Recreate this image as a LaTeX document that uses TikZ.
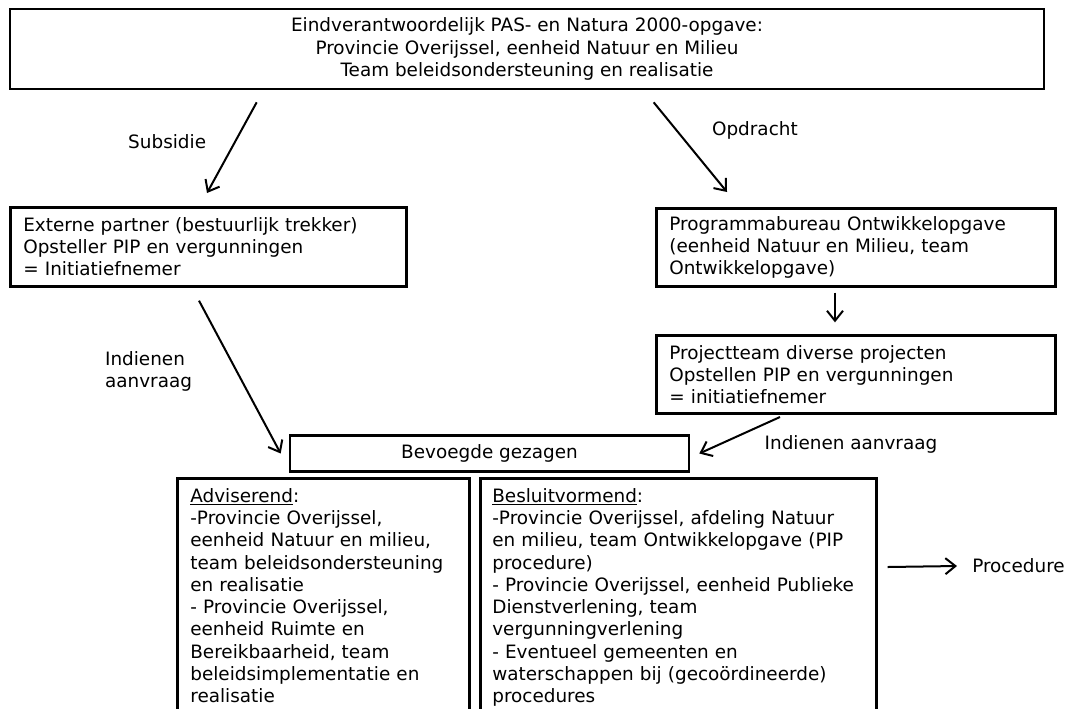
\documentclass[tikz,border=0pt]{standalone}
\usepackage{fontspec}
\setmainfont{DejaVu Sans}
\usepackage{tikz}
\usetikzlibrary{arrows.meta,positioning,calc}

\newcommand{\pxu}{0.75pt}

\begin{document}
\begin{tikzpicture}[
  x=0.75pt, y=-0.75pt,
  font=\fontsize{13.8pt}{16.7pt}\selectfont,
  box/.style={rectangle, draw, line width=2pt, align=left, inner xsep=13*\pxu, inner ysep=3pt},
  arrow/.style={-{Straight Barb[length=7.5pt, width=12pt]}, line width=1.5pt},
  lbl/.style={inner sep=0pt, align=left},
  longbox/.style={box, anchor=north west, text height=15pt, text depth=220pt}
]
  \useasboundingbox (0,0) rectangle (1074,708);
  \clip (0,0) rectangle (1074,708);

  \node[box, align=center, minimum width=1034*\pxu, minimum height=80*\pxu] (opgave) at (527,49)
    {Eindverantwoordelijk PAS- en Natura 2000-opgave:\\Provincie Overijssel, eenheid Natuur en Milieu\\Team beleidsondersteuning en realisatie};
  \node[box, anchor=north west, text width=370*\pxu, minimum height=79*\pxu] (partner) at (9,206)
    {Externe partner (bestuurlijk trekker)\\Opsteller PIP en vergunningen\\= Initiatiefnemer};
  \node[box, anchor=north west, text width=373*\pxu, minimum height=78*\pxu] (bureau) at (655,207)
    {Programmabureau Ontwikkelopgave\\(eenheid Natuur en Milieu, team\\Ontwikkelopgave)};
  \node[box, below=35pt of bureau, text width=373*\pxu, minimum height=78*\pxu] (projectteam)
    {Projectteam diverse projecten\\Opstellen PIP en vergunningen\\= initiatiefnemer};
  \node[box, align=center, minimum width=399*\pxu, minimum height=36*\pxu] (bevoegd) at (489.5,453.5)
    {Bevoegde gezagen};
  \node[longbox, text width=266*\pxu] (advies) at (176,477)
    {\underline{Adviserend}:\\-Provincie Overijssel,\\eenheid Natuur en milieu,\\team beleidsondersteuning\\en realisatie\\- Provincie Overijssel,\\eenheid Ruimte en\\Bereikbaarheid, team\\beleidsimplementatie en\\realisatie};
  \node[longbox, inner xsep=12*\pxu, text width=372*\pxu] (besluit) at (479,477)
    {\underline{Besluitvormend}:\\-Provincie Overijssel, afdeling Natuur\\en milieu, team Ontwikkelopgave (PIP\\procedure)\\- Provincie Overijssel, eenheid Publieke\\Dienstverlening, team\\vergunningverlening\\- Eventueel gemeenten en\\waterschappen bij (gecoördineerde)\\procedures};
  \node[lbl, anchor=west] (procedure) at (972,566) {Procedure};

  \draw[arrow] ($(opgave.south west)+(248,12)$) -- ($(partner.north west)+(198,-13)$)
    node[lbl, pos=0.435, left=21pt] {Subsidie};
  \draw[arrow] ($(opgave.south west)+(645,12)$) -- ($(bureau.north west)+(72,-15)$)
    node[lbl, pos=0.31, right=26pt] {Opdracht};
  \draw[arrow] ($(bureau.south west)+(180,5)$) -- ($(projectteam.north west)+(180,-12)$);
  \draw[arrow] ($(partner.south west)+(190,13)$) -- ($(bevoegd.west)+(-8,0)$)
    node[lbl, pos=0.465, left=33pt] {Indienen\\aanvraag};
  \draw[arrow] ($(projectteam.south west)+(125,2)$) -- ($(bevoegd.east)+(9,0)$)
    node[lbl, pos=0.5, anchor=west, xshift=18pt, yshift=-7pt] {Indienen aanvraag};
  \draw[arrow] ($(besluit.north east)+(10,90)$) -- ($(procedure.west)+(-15,0)$);
\end{tikzpicture}
\end{document}
